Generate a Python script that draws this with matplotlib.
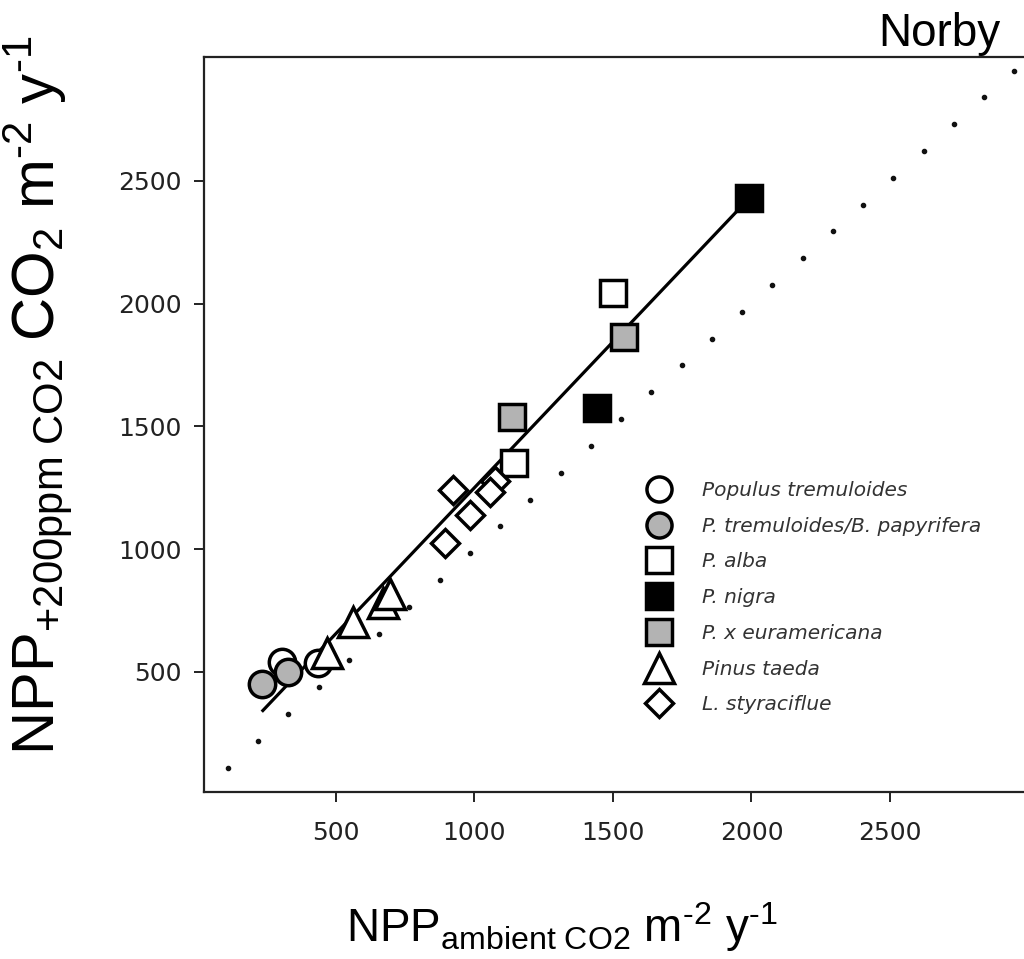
import matplotlib
matplotlib.use("Agg")
import matplotlib.pyplot as plt
from matplotlib.lines import Line2D
import numpy as np

plt.rcParams['font.family'] = ['Liberation Sans', 'DejaVu Sans']
plt.rcParams['mathtext.fontset'] = 'custom'
plt.rcParams['mathtext.rm'] = 'Liberation Sans'
plt.rcParams['mathtext.it'] = 'Liberation Sans:italic'
plt.rcParams['mathtext.default'] = 'regular'

# ---- data ----
species = ["Populus tremuloides", "P. tremuloides/B. papyrifera", "P. alba",
           "P. nigra", "P. x euramericana", "Pinus taeda", "L. styraciflue"]

pt_x = [305, 435]
pt_y = [541, 537]
ptb_x = [232, 327]
ptb_y = [451, 501]
alba_x = [1143, 1501]
alba_y = [1350, 2042]
nigra_x = [1443, 1992]
nigra_y = [1574, 2429]
eur_x = [1134, 1540]
eur_y = [1540, 1865]
pinus_x = [467, 562, 670, 695]
pinus_y = [576, 705, 780, 818]
liq_x = [893, 983, 923, 1074, 1056]
liq_y = [1024, 1141, 1241, 1276, 1234]

fit_x = [232, 1992]
fit_y = [338, 2429]

one_to_one = np.arange(110, 3000, 109.2)

x_ticks = [500, 1000, 1500, 2000, 2500]
y_ticks = [500, 1000, 1500, 2000, 2500]

GRAY = '#b3b3b3'
styles = [
    dict(marker='o', mfc='white', ms=19),
    dict(marker='o', mfc=GRAY, ms=19),
    dict(marker='s', mfc='white', ms=19),
    dict(marker='s', mfc='black', ms=19),
    dict(marker='s', mfc=GRAY, ms=19),
    dict(marker='^', mfc='white', ms=22),
    dict(marker='D', mfc='white', ms=14.5),
]
series = [(pt_x, pt_y), (ptb_x, ptb_y), (alba_x, alba_y), (nigra_x, nigra_y),
          (eur_x, eur_y), (pinus_x, pinus_y), (liq_x, liq_y)]

fig = plt.figure(figsize=(10.24, 9.59), dpi=100)
ax = fig.add_axes([204/1024, 1-792/959, 820/1024, (792-57.3)/959])

ax.plot(one_to_one, one_to_one, linestyle='none', marker='o', ms=3,
        color='#111111', zorder=1, clip_on=True)
ax.plot(fit_x, fit_y, color='black', lw=2.3, zorder=2, solid_capstyle='butt')

order = [0, 1, 5, 6, 2, 3, 4]
for i in order:
    xs, ys = series[i]
    st = styles[i]
    ax.plot(xs, ys, linestyle='none', marker=st['marker'], ms=st['ms'],
            mfc=st['mfc'], mec='black', mew=2.5, zorder=3 + i)

ax.set_xlim(23.5, 2984)
ax.set_ylim(11, 3003)
ax.set_xticks(x_ticks)
ax.set_yticks(y_ticks)
ax.tick_params(direction='out', length=7, width=1.4, colors='#222222',
               labelsize=18, pad=9)
ax.tick_params(axis='x', pad=14)
for lab in ax.get_xticklabels() + ax.get_yticklabels():
    lab.set_fontfamily('DejaVu Sans')
for s in ['left', 'bottom', 'top']:
    ax.spines[s].set_linewidth(1.6)
    ax.spines[s].set_color('#222222')
ax.spines['right'].set_visible(False)

handles = []
for st in styles:
    handles.append(Line2D([], [], linestyle='none', marker=st['marker'],
                          ms=st['ms'] * (0.95 if st['marker'] != 'D' else 1.0),
                          mfc=st['mfc'], mec='black', mew=2.5))
leg = ax.legend(handles, species, loc='upper left',
                bbox_to_anchor=(643/1024, 1-481/959),
                bbox_transform=fig.transFigure, frameon=False,
                prop=dict(family='DejaVu Sans', style='italic', size=14.5),
                handlelength=1.6, handletextpad=1.34, labelspacing=0.83,
                borderpad=0, borderaxespad=0)
for t in leg.get_texts():
    t.set_color('#333333')

fig.text(562/1024, 1-942/959,
         'NPP$_{ambient\\ CO2}$ m$^{\u20102}$ y$^{\u20101}$',
         ha='center', va='baseline', fontsize=33)
fig.text(38/1024, 1-395/959,
         'NPP$_{+200ppm\\ CO2}$ CO$_{2}$ m$^{\u20102}$ y$^{\u20101}$',
         ha='center', va='center', rotation=90, fontsize=43)
fig.text(1000/1024, 1-46/959, 'Norby', ha='right', va='baseline', fontsize=33)

fig.savefig('out.png', dpi=100)
